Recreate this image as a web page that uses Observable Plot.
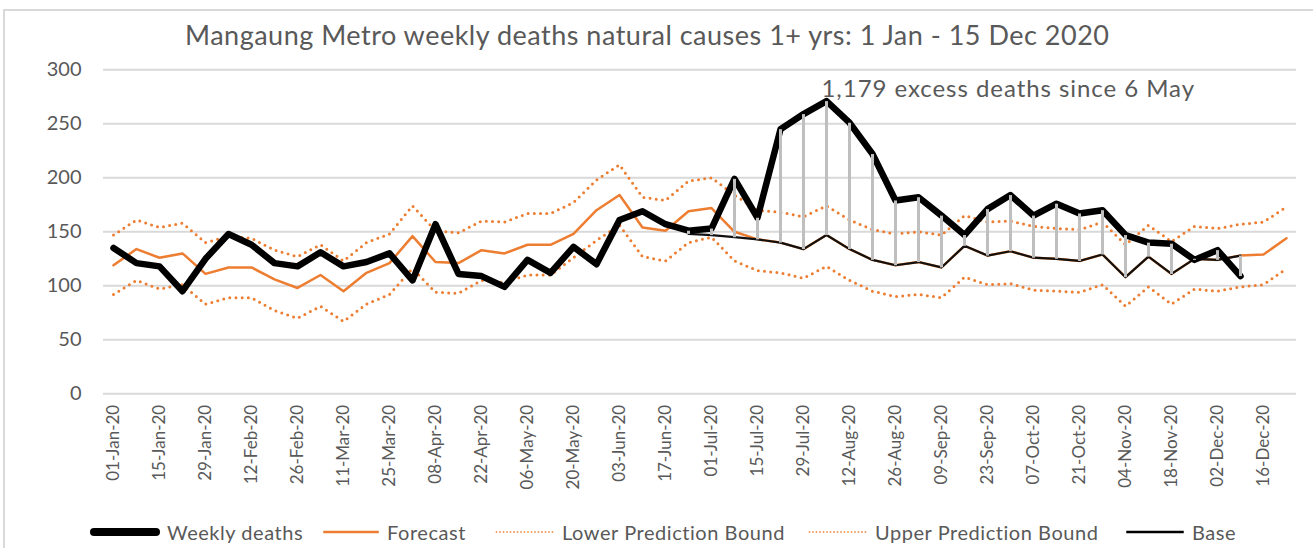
<!DOCTYPE html>
<html>
<head>
<meta charset="utf-8">
<script src="https://cdn.jsdelivr.net/npm/d3@7"></script>
<script src="https://cdn.jsdelivr.net/npm/@observablehq/plot@0.6"></script>
<style>
  html, body { margin: 0; padding: 0; background: #fff; }
  #wrap { position: relative; width: 1313px; height: 548px; overflow: hidden; font-family: Lato, "Open Sans", sans-serif; color: #595959; }
  #frame { position: absolute; left: 3px; top: 9px; width: 1400px; height: 600px; border-left: 2px solid #d9d9d9; border-top: 2px solid #d9d9d9; pointer-events: none; }
  #title { height: 56px; box-sizing: border-box; padding-top: 21px; padding-left: 185px; font-size: 27px; line-height: 27px; letter-spacing: 0.5px; white-space: nowrap; }
  #legend { position: relative; height: 32px; font-size: 20px; letter-spacing: 0.55px; white-space: nowrap; }
  #legend .item { position: absolute; top: 0; height: 32px; display: flex; align-items: center; }
  #legend svg { display: block; }
  svg .annot text { letter-spacing: 0.95px; }
</style>
</head>
<body>
<div id="wrap">
  <div id="frame"></div>
  <div id="title">Mangaung Metro weekly deaths natural causes 1+ yrs: 1 Jan - 15 Dec 2020</div>
  <div id="chart"></div>
  <div id="legend"></div>
</div>
<script>
// ---- data ----
const weeks = ["01-Jan-20","08-Jan-20","15-Jan-20","22-Jan-20","29-Jan-20","05-Feb-20","12-Feb-20","19-Feb-20","26-Feb-20","04-Mar-20","11-Mar-20","18-Mar-20","25-Mar-20","01-Apr-20","08-Apr-20","15-Apr-20","22-Apr-20","29-Apr-20","06-May-20","13-May-20","20-May-20","27-May-20","03-Jun-20","10-Jun-20","17-Jun-20","24-Jun-20","01-Jul-20","08-Jul-20","15-Jul-20","22-Jul-20","29-Jul-20","05-Aug-20","12-Aug-20","19-Aug-20","26-Aug-20","02-Sep-20","09-Sep-20","16-Sep-20","23-Sep-20","30-Sep-20","07-Oct-20","14-Oct-20","21-Oct-20","28-Oct-20","04-Nov-20","11-Nov-20","18-Nov-20","25-Nov-20","02-Dec-20","09-Dec-20","16-Dec-20","23-Dec-20"];

const weeklyDeaths = [135,121,118,95,125,148,138,121,118,131,118,122,130,105,157,111,109,99,124,112,136,120,161,169,157,151,153,199,163,245,259,271,251,222,179,182,165,147,171,184,165,176,167,170,147,140,139,124,133,109];

const forecast = [119,134,126,130,111,117,117,106,98,110,95,112,121,146,122,121,133,130,138,138,148,170,184,154,151,169,172,150,143,140,134,147,134,124,119,122,117,137,128,132,126,125,123,129,108,127,111,125,124,128,129,144];

const lowerBound = [92,105,97,101,83,89,89,77,70,81,67,83,92,116,94,93,105,103,110,110,126,142,156,127,123,140,145,123,114,112,107,118,105,95,90,92,89,108,101,102,96,95,94,101,81,99,83,97,95,99,101,116];

const upperBound = [147,161,154,158,140,146,144,133,127,138,123,140,148,174,151,149,160,159,167,167,177,198,212,182,179,197,200,184,170,168,164,174,161,152,148,150,147,165,159,160,155,153,152,159,138,156,141,155,153,157,159,173];

// base starts at week index 25 (24-Jun-20) and ends at index 49 (09-Dec-20)
const baseStart = 25;
const base = [148,147,145,143,140,134,147,134,124,119,122,117,137,128,132,126,125,123,129,108,127,111,125,124,128];

const yTicks = [0,50,100,150,200,250,300];
const xTickLabels = weeks.filter((d, i) => i % 2 === 0);
const annotation = "1,179 excess deaths since 6 May";

// ---- tables ----
const rows = weeks.map((w, i) => ({
  week: w,
  deaths: i < weeklyDeaths.length ? weeklyDeaths[i] : null,
  forecast: forecast[i],
  lower: lowerBound[i],
  upper: upperBound[i],
  base: (i >= baseStart && i < baseStart + base.length) ? base[i - baseStart] : null
}));
const excess = rows.filter(r => r.base != null && r.deaths != null);

const ORANGE = "#ed7d31";
const GRID = "#d9d9d9";
const DOTS = "0 6.2";

const chart = Plot.plot({
  width: 1313,
  height: 460,
  marginLeft: 103,
  marginRight: 17,
  marginTop: 13.3,
  marginBottom: 122.7,
  style: { fontFamily: 'Lato, "Open Sans", sans-serif', color: "#595959", background: "transparent", overflow: "visible" },
  x: { type: "point", domain: weeks, padding: 0 },
  y: { domain: [0, 300] },
  marks: [
    Plot.gridY(yTicks, { stroke: GRID, strokeOpacity: 1, strokeWidth: 2 }),
    Plot.axisY({ ticks: yTicks, tickSize: 0, tickPadding: 22, fontSize: 20, label: null }),
    Plot.axisX({ ticks: xTickLabels, tickSize: 0, tickPadding: 11, tickRotate: -90, fontSize: 17, label: null }),
    Plot.lineY(rows, { x: "week", y: "lower", stroke: ORANGE, strokeWidth: 3, strokeDasharray: DOTS, strokeLinecap: "round" }),
    Plot.lineY(rows, { x: "week", y: "upper", stroke: ORANGE, strokeWidth: 3, strokeDasharray: DOTS, strokeLinecap: "round" }),
    Plot.lineY(rows, { x: "week", y: "forecast", stroke: ORANGE, strokeWidth: 2.5 }),
    Plot.lineY(rows.filter(r => r.base != null), { x: "week", y: "base", stroke: "#111", strokeWidth: 2.2 }),
    Plot.lineY(rows.filter(r => r.deaths != null), { x: "week", y: "deaths", stroke: "#000", strokeWidth: 6.5, strokeLinejoin: "round" }),
    Plot.link(excess, { x1: "week", x2: "week", y1: "base", y2: "deaths", stroke: "#bfbfbf", strokeWidth: 3 }),
    Plot.text([annotation], { x: () => weeks[31], y: () => 282, text: d => d, textAnchor: "start", dx: -5, fontSize: 24, fill: "#595959", className: "annot" })
  ]
});
document.getElementById("chart").appendChild(chart);
// apply letter spacing to the annotation text element(s)
d3.select(chart).selectAll("text").filter(function() { return this.textContent === annotation; })
  .attr("letter-spacing", "0.95").style("letter-spacing", "0.95px");

// ---- legend ----
const legendItems = [
  { label: "Weekly deaths", stroke: "#000", width: 8, dash: null, cap: "round", left: 90, sw: 70 },
  { label: "Forecast", stroke: ORANGE, width: 2.5, dash: null, cap: "butt", left: 322, sw: 58 },
  { label: "Lower Prediction Bound", stroke: ORANGE, width: 1.5, dash: "1.5 2", cap: "butt", left: 495, sw: 60 },
  { label: "Upper Prediction Bound", stroke: ORANGE, width: 1.5, dash: "1.5 2", cap: "butt", left: 808, sw: 60 },
  { label: "Base", stroke: "#000", width: 2.5, dash: null, cap: "butt", left: 1125, sw: 60 }
];
const legend = d3.select("#legend");
legendItems.forEach(it => {
  const item = legend.append("div").attr("class", "item").style("left", it.left + "px");
  const s = item.append("svg").attr("width", it.sw).attr("height", 12);
  s.append("line").attr("x1", it.width / 2).attr("x2", it.sw - it.width / 2).attr("y1", 6).attr("y2", 6)
    .attr("stroke", it.stroke).attr("stroke-width", it.width).attr("stroke-linecap", it.cap)
    .attr("stroke-dasharray", it.dash);
  item.append("span").style("margin-left", "7px").text(it.label);
});
</script>
</body>
</html>
